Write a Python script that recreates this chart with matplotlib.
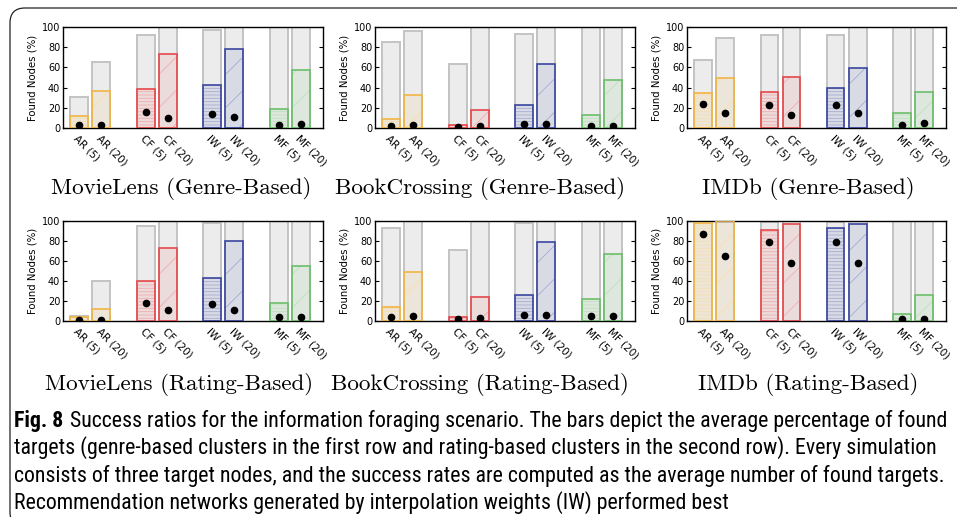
import matplotlib
matplotlib.use('Agg')
import matplotlib.pyplot as plt
from matplotlib.patches import FancyBboxPatch
from matplotlib.transforms import IdentityTransform
from matplotlib.colors import to_rgb

labels = ['AR (5)', 'AR (20)', 'CF (5)', 'CF (20)', 'IW (5)', 'IW (20)', 'MF (5)', 'MF (20)']
titles = ['MovieLens (Genre-Based)', 'BookCrossing (Genre-Based)', 'IMDb (Genre-Based)',
          'MovieLens (Rating-Based)', 'BookCrossing (Rating-Based)', 'IMDb (Rating-Based)']

# upper (gray) bars, found (colored) bars, dots
ml_genre_upper = [30.6, 65, 92, 100, 97, 100, 100, 100]
ml_genre_found = [12, 37, 39, 73, 43, 78, 18.6, 57]
ml_genre_dot = [3.3, 2.7, 15.6, 10.3, 13.6, 11, 3.3, 4]

bc_genre_upper = [85.3, 96, 63.7, 100, 93.3, 100, 100, 100]
bc_genre_found = [9, 33, 3, 18, 22.5, 63.7, 13, 47.3]
bc_genre_dot = [1.7, 2.7, 0.7, 1.7, 4, 3.7, 1.7, 2.3]

im_genre_upper = [67.5, 89.3, 92, 100, 92, 100, 100, 100]
im_genre_found = [34.8, 49.5, 35.5, 50, 39.5, 59.5, 14.4, 35.8]
im_genre_dot = [24, 14.4, 22.4, 12.7, 23, 14.4, 3, 5]

ml_rating_upper = [4.7, 40.2, 95.3, 100, 98.3, 100, 100, 100]
ml_rating_found = [3.7, 12, 40, 72.8, 43.5, 80.4, 18, 55.1]
ml_rating_dot = [1, 0.7, 18, 11, 16.6, 11.3, 4, 3.7]

bc_rating_upper = [93, 100, 71, 100, 97.7, 100, 100, 100]
bc_rating_found = [14.3, 48.7, 4.3, 23.7, 25.7, 79, 22.3, 66.7]
bc_rating_dot = [3.7, 5, 1.7, 3.3, 5.7, 5.7, 5, 5]

im_rating_upper = [99, 100, 98.7, 100, 98.7, 100, 100, 100]
im_rating_found = [98, 100, 90.7, 96.7, 92.7, 97.3, 6.7, 25.7]
im_rating_dot = [87.3, 64.7, 79, 57.7, 79.3, 58, 1.7, 1.7]

panels = [
    (ml_genre_upper, ml_genre_found, ml_genre_dot),
    (bc_genre_upper, bc_genre_found, bc_genre_dot),
    (im_genre_upper, im_genre_found, im_genre_dot),
    (ml_rating_upper, ml_rating_found, ml_rating_dot),
    (bc_rating_upper, bc_rating_found, bc_rating_dot),
    (im_rating_upper, im_rating_found, im_rating_dot),
]

method_colors = ['#f2b544', '#e5484b', '#3a46a0', '#6cbf6a']

caption_bold = 'Fig. 8'
caption_lines = [
    'Success ratios for the information foraging scenario. The bars depict the average percentage of found',
    'targets (genre-based clusters in the first row and rating-based clusters in the second row). Every simulation',
    'consists of three target nodes, and the success rates are computed as the average number of found targets.',
    'Recommendation networks generated by interpolation weights (IW) performed best',
]

W, H = 957, 517
fig = plt.figure(figsize=(W / 100, H / 100), dpi=100)
plt.rcParams['hatch.linewidth'] = 0.6
tick_font = ['DejaVu Sans']

def lighten(c, f):
    r, g, b = to_rgb(c)
    return (r + (1 - r) * f, g + (1 - g) * f, b + (1 - b) * f)

col_px = [(63, 323), (375, 635), (687, 946)]
row_px = [(27, 128), (221, 321)]
title_x = [[181, 480, 808], [179, 480, 808]]
title_y = [188, 384]

pos = [g * 3 + k for g in range(4) for k in range(2)]

for idx, (upper, found, dot) in enumerate(panels):
    r, c = divmod(idx, 3)
    x0, x1 = col_px[c]
    y0, y1 = row_px[r]
    ax = fig.add_axes([x0 / W, 1 - y1 / H, (x1 - x0) / W, (y1 - y0) / H])
    ax.bar(pos, upper, width=0.8, color='#ececec', edgecolor='#c3c3c3', linewidth=1.4, zorder=1)
    for i in range(len(pos)):
        mc = method_colors[i // 2]
        hatch = '-----' if i % 2 == 0 else '/'
        ax.bar(pos[i], found[i], width=0.8, facecolor=(*to_rgb(mc), 0.10),
               edgecolor=lighten(mc, 0.55), hatch=hatch, linewidth=0, zorder=2)
        ax.bar(pos[i], found[i], width=0.8, fill=False, edgecolor=mc, linewidth=1.2, zorder=3)
    ax.plot(pos, dot, 'o', color='black', markersize=4.5, zorder=4)
    ax.set_xlim(-0.73, 11.0)
    ax.set_ylim(0, 100)
    ax.set_yticks([0, 20, 40, 60, 80, 100])
    ax.tick_params(axis='y', direction='in', right=True, length=3, width=0.8, labelsize=7, pad=2)
    ax.set_xticks(pos)
    ax.set_xticklabels(labels, rotation=-45, ha='left', rotation_mode='anchor', fontsize=7.5,
                       family=tick_font)
    ax.tick_params(axis='x', length=0, pad=4)
    ax.set_ylabel('Found Nodes (%)', fontsize=7.3, labelpad=3, family=tick_font)
    for s in ax.spines.values():
        s.set_linewidth(1.0)
    fig.text(title_x[r][c] / W, 1 - title_y[r] / H, titles[idx], family='cmr10',
             fontsize=16.6, ha='center', va='center')

# caption
cap_font = ['Roboto Condensed', 'Open Sans Condensed', 'Liberation Sans Narrow', 'Roboto', 'DejaVu Sans']
cap_size = 13.0
cap_y = [421, 448, 476, 503]
gap = 7
fig.canvas.draw()
rend = fig.canvas.get_renderer()
tb = fig.text(14 / W, 1 - cap_y[0] / H, caption_bold, family=cap_font, fontweight='bold',
              fontsize=cap_size, ha='left', va='center')
cap_texts = []
for j, line in enumerate(caption_lines):
    t = fig.text(14 / W, 1 - cap_y[j] / H, line, family=cap_font, fontsize=cap_size,
                 ha='left', va='center')
    cap_texts.append(t)

def set_caption(size):
    tb.set_fontsize(size)
    for t in cap_texts:
        t.set_fontsize(size)
    bb = tb.get_window_extent(rend)
    cap_texts[0].set_x((bb.x1 + gap) / W)
    return cap_texts[0].get_window_extent(rend).x1

size = cap_size
for _ in range(3):
    right = set_caption(size)
    size = size * (950 - 14) / (right - 14)
set_caption(size)

frame = FancyBboxPatch((10, -10), 1000, 509 + 10, boxstyle='round,pad=0,rounding_size=15',
                       transform=IdentityTransform(), facecolor='none', edgecolor='#222222',
                       linewidth=0.9, zorder=10)
fig.patches.append(frame)

fig.savefig('out.png', dpi=100)
